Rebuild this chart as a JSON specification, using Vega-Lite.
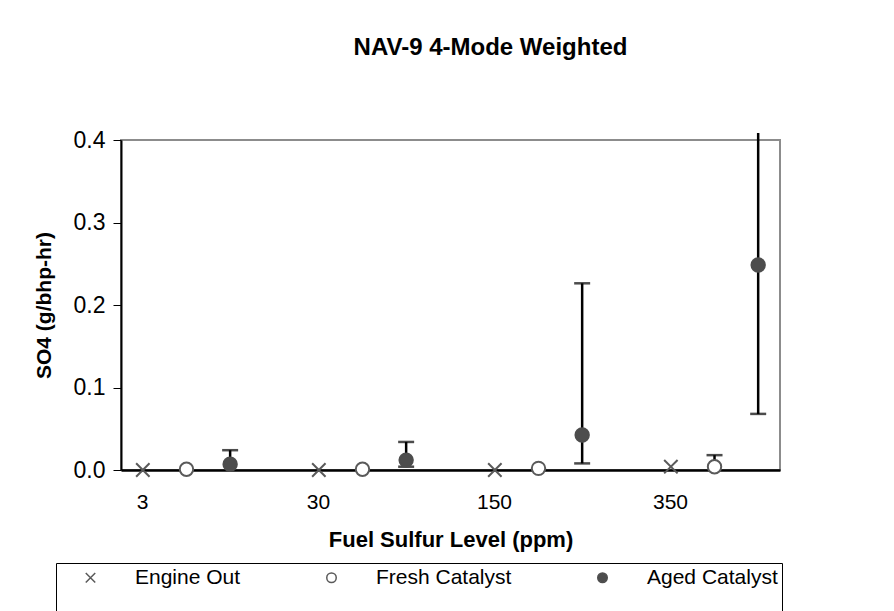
{
  "$schema": "https://vega.github.io/schema/vega-lite/v6.json",
  "autosize": {"type": "none"},
  "width": 659,
  "height": 330,
  "padding": {"left": 121, "top": 140, "right": 114, "bottom": 141},
  "background": "white",
  "title": {
    "text": "NAV-9 4-Mode Weighted",
    "font": "Liberation Sans",
    "fontSize": 24,
    "fontWeight": "bold",
    "color": "black",
    "anchor": "middle",
    "baseline": "alphabetic",
    "offset": 50,
    "dx": 40
  },
  "config": {
    "view": {"stroke": "#8c8c8c", "strokeWidth": 2},
    "font": "Liberation Sans",
    "axis": {
      "labelFont": "Liberation Sans",
      "titleFont": "Liberation Sans",
      "labelColor": "black",
      "titleColor": "black",
      "grid": false
    },
    "legend": {
      "labelFont": "Liberation Sans",
      "labelFontSize": 21,
      "labelColor": "black"
    }
  },
  "datasets": {
    "points": [
      {"ppm": "3", "series": "Engine Out", "so4": 0.0},
      {"ppm": "3", "series": "Fresh Catalyst", "so4": 0.001},
      {"ppm": "3", "series": "Aged Catalyst", "so4": 0.0069},
      {"ppm": "30", "series": "Engine Out", "so4": 0.0},
      {"ppm": "30", "series": "Fresh Catalyst", "so4": 0.001},
      {"ppm": "30", "series": "Aged Catalyst", "so4": 0.012},
      {"ppm": "150", "series": "Engine Out", "so4": 0.0},
      {"ppm": "150", "series": "Fresh Catalyst", "so4": 0.002},
      {"ppm": "150", "series": "Aged Catalyst", "so4": 0.0424},
      {"ppm": "350", "series": "Engine Out", "so4": 0.004},
      {"ppm": "350", "series": "Fresh Catalyst", "so4": 0.004},
      {"ppm": "350", "series": "Aged Catalyst", "so4": 0.2485}
    ],
    "errors": [
      {"ppm": "3", "series": "Aged Catalyst", "lo": 0.0069, "hi": 0.024, "lowCap": false, "highCap": true},
      {"ppm": "30", "series": "Aged Catalyst", "lo": 0.004, "hi": 0.034, "lowCap": true, "highCap": true},
      {"ppm": "150", "series": "Aged Catalyst", "lo": 0.008, "hi": 0.2263, "lowCap": true, "highCap": true},
      {"ppm": "350", "series": "Aged Catalyst", "lo": 0.068, "hi": 0.4085, "lowCap": true, "highCap": false},
      {"ppm": "350", "series": "Fresh Catalyst", "lo": 0.004, "hi": 0.018, "lowCap": false, "highCap": true}
    ]
  },
  "encoding": {
    "x": {
      "field": "ppm",
      "type": "ordinal",
      "scale": {"domain": ["3", "30", "150", "350"], "paddingInner": 0.256, "paddingOuter": 0},
      "axis": {
        "title": "Fuel Sulfur Level (ppm)",
        "ticks": false,
        "labelOffset": -44,
        "labelAngle": 0,
        "labelFontSize": 21,
        "labelPadding": 21,
        "domainColor": "black",
        "domainWidth": 2.5,
        "titleFontSize": 22,
        "titleFontWeight": "bold",
        "titlePadding": 17
      }
    },
    "xOffset": {
      "field": "series",
      "type": "nominal",
      "scale": {"domain": ["Engine Out", "Fresh Catalyst", "Aged Catalyst"], "paddingInner": 0, "paddingOuter": 0}
    }
  },
  "layer": [
    {
      "data": {"name": "errors"},
      "mark": {"type": "rule", "strokeWidth": 2.5, "color": "black"},
      "encoding": {
        "y": {"field": "lo", "type": "quantitative", "scale": {"domain": [0, 0.4], "nice": false}},
        "y2": {"field": "hi"}
      }
    },
    {
      "data": {"name": "errors"},
      "transform": [{"filter": "datum.highCap"}],
      "mark": {"type": "tick", "thickness": 2.5, "size": 16, "color": "black", "orient": "horizontal"},
      "encoding": {
        "y": {"field": "hi", "type": "quantitative"}
      }
    },
    {
      "data": {"name": "errors"},
      "transform": [{"filter": "datum.lowCap"}],
      "mark": {"type": "tick", "thickness": 2.5, "size": 16, "color": "black", "orient": "horizontal"},
      "encoding": {
        "y": {"field": "lo", "type": "quantitative"}
      }
    },
    {
      "data": {"name": "points"},
      "mark": {"type": "point", "filled": false, "strokeWidth": 2, "opacity": 1, "size": 180},
      "encoding": {
        "y": {
          "field": "so4",
          "type": "quantitative",
          "scale": {"domain": [0, 0.4], "nice": false},
          "axis": {
            "values": [0, 0.1, 0.2, 0.3, 0.4],
            "format": ".1f",
            "title": "SO4 (g/bhp-hr)",
            "tickSize": 8,
            "tickColor": "black",
            "tickWidth": 1,
            "domainColor": "black",
            "domainWidth": 2,
            "labelFontSize": 23,
            "labelPadding": 8,
            "titleFontSize": 21,
            "titleFontWeight": "bold",
            "titlePadding": 19
          }
        },
        "shape": {
          "field": "series",
          "type": "nominal",
          "scale": {"domain": ["Engine Out", "Fresh Catalyst", "Aged Catalyst"], "range": ["M-1,-1L1,1M-1,1L1,-1", "circle", "circle"]},
          "legend": {
            "title": " ",
            "titleOrient": "bottom",
            "titlePadding": 12,
            "titleFontSize": 20,
            "orient": "none",
            "legendX": -65,
            "legendY": 423,
            "direction": "horizontal",
            "columns": 3,
            "columnPadding": 60,
            "strokeColor": "black",
            "padding": 4,
            "labelOffset": 34,
            "symbolOffset": 20,
            "symbolSize": 90,
            "symbolStrokeWidth": 1.5
          }
        },
        "fill": {
          "field": "series",
          "type": "nominal",
          "scale": {"domain": ["Engine Out", "Fresh Catalyst", "Aged Catalyst"], "range": ["transparent", "white", "#4d4d4d"]}
        },
        "stroke": {
          "field": "series",
          "type": "nominal",
          "scale": {"domain": ["Engine Out", "Fresh Catalyst", "Aged Catalyst"], "range": ["#5a5a5a", "#5a5a5a", "#4d4d4d"]}
        }
      }
    }
  ]
}
